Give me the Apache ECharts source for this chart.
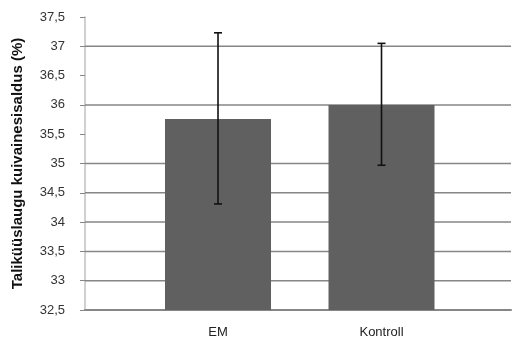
<!DOCTYPE html>
<html>
<head>
<meta charset="utf-8">
<script src="https://cdn.jsdelivr.net/npm/echarts@6/dist/echarts.min.js"></script>
<style>html,body{margin:0;padding:0;background:#fff}#c{width:512px;height:339px}</style>
</head>
<body>
<div id="c"></div>
<script>
const categories = ['EM', 'Kontroll'];
const means = [35.76, 36.0];
const errLow = [34.31, 34.97];
const errHigh = [37.23, 37.05];
const gridValues = [33, 33.5, 34, 34.5, 35, 36, 37];
const yTitle = 'Taliküüslaugu kuivainesisaldus (%)';

const chart = echarts.init(document.getElementById('c'));
const font = 'Liberation Sans';
chart.setOption({
  animation: false,
  grid: { left: 85, right: 1, top: 17, bottom: 29 },
  xAxis: {
    type: 'value', min: -0.8135, max: 1.792,
    axisLine: { show: true, onZero: false, lineStyle: { color: '#868686', width: 2 } },
    axisTick: { show: false },
    splitLine: { show: false },
    axisLabel: {
      customValues: [0, 1],
      formatter: v => categories[Math.round(v)],
      fontFamily: font, fontSize: 13, color: '#222', margin: 16
    }
  },
  yAxis: {
    type: 'value', min: 32.5, max: 37.5, interval: 0.5,
    name: yTitle, nameLocation: 'middle', nameRotate: 90, nameGap: 60,
    nameTextStyle: { fontFamily: font, fontSize: 15, fontWeight: 'bold', color: '#111' },
    axisLine: { show: true, onZero: false, lineStyle: { color: '#c0c0c0', width: 1.5 } },
    axisTick: { show: true, length: 5, lineStyle: { color: '#868686' } },
    splitLine: { show: false },
    axisLabel: {
      formatter: v => String(v).replace('.', ','),
      fontFamily: font, fontSize: 13, color: '#333', margin: 20
    }
  },
  series: [
    {
      type: 'custom',
      z: 1,
      silent: true,
      data: gridValues.map(v => [0, v]),
      renderItem: function (params, api) {
        const cs = params.coordSys;
        const p = api.coord([0, api.value(1)]);
        return {
          type: 'line',
          shape: { x1: cs.x, y1: p[1], x2: cs.x + cs.width, y2: p[1] },
          style: { stroke: '#868686', lineWidth: 1.5 }
        };
      }
    },
    {
      type: 'bar',
      z: 2,
      barWidth: 106,
      itemStyle: { color: '#606060' },
      data: means.map((m, i) => [i, m])
    },
    {
      type: 'custom',
      z: 3,
      data: means.map((m, i) => [i, errLow[i], errHigh[i]]),
      renderItem: function (params, api) {
        const x = api.value(0);
        const lo = api.coord([x, api.value(1)]);
        const hi = api.coord([x, api.value(2)]);
        const cap = 4;
        const st = { stroke: '#111', lineWidth: 1.6 };
        return {
          type: 'group',
          children: [
            { type: 'line', shape: { x1: lo[0], y1: lo[1], x2: hi[0], y2: hi[1] }, style: st },
            { type: 'line', shape: { x1: lo[0] - cap, y1: lo[1], x2: lo[0] + cap, y2: lo[1] }, style: st },
            { type: 'line', shape: { x1: hi[0] - cap, y1: hi[1], x2: hi[0] + cap, y2: hi[1] }, style: st }
          ]
        };
      }
    }
  ]
});
</script>
</body>
</html>
